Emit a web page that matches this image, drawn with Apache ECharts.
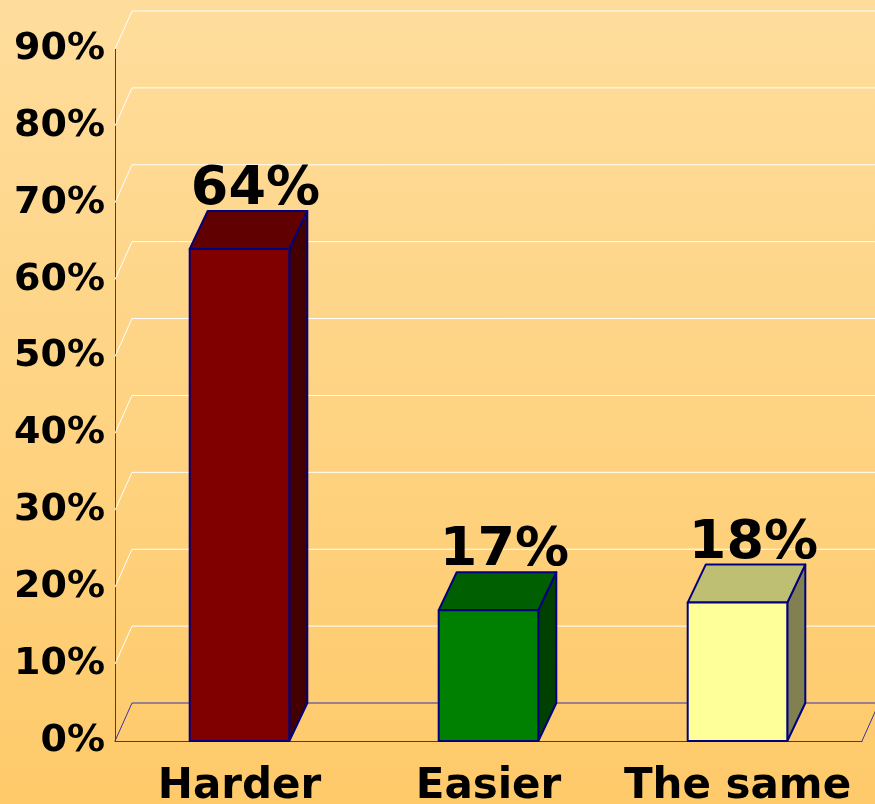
<!DOCTYPE html>
<html><head><meta charset="utf-8">
<script src="https://cdn.jsdelivr.net/npm/echarts@6/dist/echarts.min.js"></script>
<style>html,body{margin:0;padding:0;background:#fed58a;} #c{width:875px;height:804px;}</style>
</head><body><div id="c"></div>
<script>
// ---- data ----
const categories = ['Harder', 'Easier', 'The same'];
const values = [64, 17, 18];
const valueLabels = ['64%', '17%', '18%'];
const tickValues = [0, 10, 20, 30, 40, 50, 60, 70, 80, 90];

// ---- styles ----
const frontColors = ['#800000', '#008000', '#FFFF99'];
const topColors = ['#600000', '#005F00', '#BFBF73'];
const sideColors = ['#420000', '#004000', '#808050'];
const DX = 17, DY = -38;
const FONT = '"DejaVu Sans", Verdana, sans-serif';

function renderWall(params, api) {
  const v = api.value(1);
  const cs = params.coordSys;
  const y = api.coord([0, v])[1];
  const x0 = cs.x, x1 = cs.x + cs.width;
  const color = v === 0 ? '#3535A8' : '#FFFFFF';
  const ch = [
    {type: 'line', shape: {x1: x0, y1: y, x2: x0 + DX, y2: y + DY}, style: {stroke: color, lineWidth: 1}},
    {type: 'line', shape: {x1: x0 + DX, y1: y + DY, x2: x1 + DX, y2: y + DY}, style: {stroke: color, lineWidth: 1}}
  ];
  if (v === 0) {
    ch.push({type: 'line', shape: {x1: x1, y1: y, x2: x1 + DX, y2: y + DY}, style: {stroke: color, lineWidth: 1}});
  }
  return {type: 'group', children: ch};
}

function renderBar(params, api) {
  const i = api.value(0);
  const v = api.value(1);
  const top = api.coord([i, v]);
  const base = api.coord([i, 0]);
  const w = api.size([1, 0])[0] * 0.4;
  const xl = top[0] - w / 2, xr = top[0] + w / 2, yt = top[1], yb = base[1];
  const bx = 18;
  const st = {stroke: '#000080', lineWidth: 2, lineJoin: 'round'};
  return {type: 'group', children: [
    {type: 'polygon', shape: {points: [[xr, yb], [xr + bx, yb + DY], [xr + bx, yt + DY], [xr, yt]]}, style: Object.assign({fill: sideColors[i]}, st)},
    {type: 'polygon', shape: {points: [[xl, yt], [xl + bx, yt + DY], [xr + bx, yt + DY], [xr, yt]]}, style: Object.assign({fill: topColors[i]}, st)},
    {type: 'rect', shape: {x: xl, y: yt, width: w, height: yb - yt}, style: Object.assign({fill: frontColors[i]}, st)},
    {type: 'text', x: top[0] + bx - 2, y: yt + DY + 6, style: {text: valueLabels[i], font: 'bold 54px ' + FONT, fill: '#000', align: 'center', verticalAlign: 'bottom'}}
  ]};
}

const chart = echarts.init(document.getElementById('c'), null, {renderer: 'canvas'});
chart.setOption({
  animation: false,
  backgroundColor: {type: 'linear', x: 0, y: 0, x2: 0, y2: 1, colorStops: [
    {offset: 0, color: '#FEDD9C'}, {offset: 1, color: '#FECA6A'}]},
  grid: {left: 115, top: 49, width: 747, height: 692, containLabel: false, outerBoundsMode: 'none'},
  xAxis: {
    type: 'category', data: categories, boundaryGap: true,
    axisLine: {show: true, lineStyle: {color: '#3535A8', width: 1}},
    axisTick: {show: false},
    axisLabel: {interval: 0, color: '#000', fontFamily: FONT, fontWeight: 'bold', fontSize: 42, margin: 25}
  },
  yAxis: {
    type: 'value', min: 0, max: 90, interval: 10,
    axisLine: {show: true, lineStyle: {color: '#3535A8', width: 1}},
    axisTick: {show: false},
    splitLine: {show: false},
    axisLabel: {color: '#000', fontFamily: FONT, fontWeight: 'bold', fontSize: 38, margin: 10, formatter: '{value}%'}
  },
  series: [
    {type: 'custom', renderItem: renderWall, data: tickValues.map(v => [0, v]), z: 1, silent: true, clip: false},
    {type: 'custom', renderItem: renderBar, data: values.map((v, i) => [i, v]), z: 5, silent: true, clip: false}
  ]
});
</script>
</body></html>
